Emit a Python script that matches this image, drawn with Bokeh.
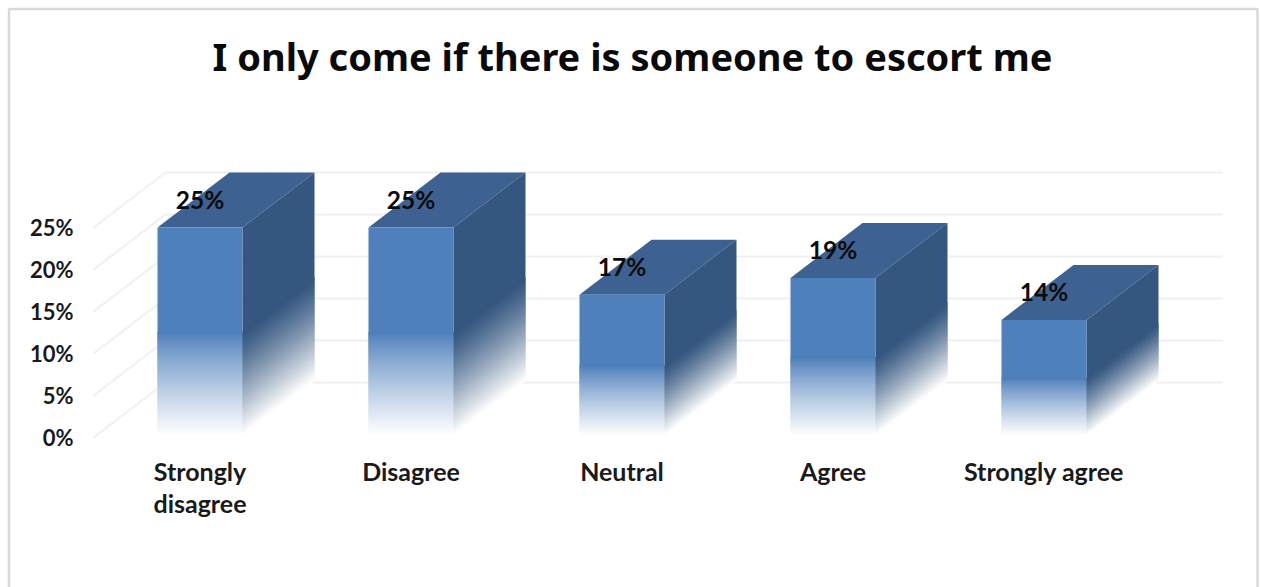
from bokeh.core.properties import value
from bokeh.embed import file_html
from bokeh.models import FixedTicker, PrintfTickFormatter, Range1d
from bokeh.plotting import figure
from bokeh.resources import INLINE

# Survey results
title = "I only come if there is someone to escort me"
categories = ["Strongly\ndisagree", "Disagree", "Neutral", "Agree", "Strongly agree"]
percent = [25, 25, 17, 19, 14]
y_ticks = [0, 5, 10, 15, 20, 25]

# Scale of the plot: pixels per category and per percentage point
W, H = 1261, 587
PX_CAT, PX_PCT = 211, 8.4
X0_PX, Y0_PX = 199.5, 437


def ux(px):
    return (px - X0_PX) / PX_CAT


def uy(px):
    return (Y0_PX - px) / PX_PCT


HALF = 42.5 / PX_CAT      # half bar width
DX = 72 / PX_CAT          # oblique depth, horizontal
DY = 55 / PX_PCT          # oblique depth, vertical
BASE = 1.5 / PX_PCT       # bars stop just above the floor edge

p = figure(
    width=W, height=H, output_backend="svg", toolbar_location=None,
    x_range=Range1d(ux(0), ux(W)), y_range=Range1d(uy(H), uy(0)),
    min_border=0, outline_line_color=None, background_fill_color="white",
    border_fill_color="white",
)
p.grid.visible = False

# Outer chart border (open at the bottom edge of the page)
p.multi_line(
    [[ux(8.5), ux(8.5), ux(1257), ux(1257)]],
    [[uy(H), uy(8.5), uy(8.5), uy(H)]],
    line_color="#D9D9D9", line_width=2.5,
)

# Floor and back wall grid
wall_xs, wall_ys = [], []
left = ux(93)
wall_right = ux(1222)
for t in y_ticks:
    wall_xs.append([left, left + DX, wall_right])
    wall_ys.append([t, t + DY, t + DY])
p.multi_line(wall_xs, wall_ys, line_color="#F0F0F0", line_width=2)


def mix(c0, c1, f):
    return "#%02x%02x%02x" % tuple(round(a + (b - a) * f) for a, b in zip(c0, c1))


FRONT = (80, 130, 190)
FRONT_LOW = (77, 126, 186)
SIDE = (52, 86, 127)
TOP = (61, 98, 146)
WHITE = (255, 255, 255)
STEPS = 60
FADE_AT = 0.5   # share of the bar height where the fade begins

for i, v in enumerate(percent):
    l, r = i - HALF, i + HALF
    h = v - BASE
    fade_top = BASE + h * FADE_AT
    strip = h * FADE_AT / STEPS

    # Solid upper parts
    p.patch([l, l + DX, r + DX, r], [v, v + DY, v + DY, v], color=mix(TOP, TOP, 0), line_width=0)
    p.patch([r, r + DX, r + DX, r],
            [fade_top - strip, fade_top - strip + DY, v + DY, v],
            color=mix(SIDE, SIDE, 0), line_width=0)
    p.quad(left=l, right=r, bottom=fade_top - strip, top=v, color=mix(FRONT, FRONT_LOW, 0.5), line_width=0)

    # Lower parts fade to white in thin strips, each overlapping the next one down
    for k in range(STEPS):
        f = k / (STEPS - 1)
        y_top = fade_top - k * strip
        y_bot = max(BASE, y_top - 2 * strip)
        p.quad(left=l, right=r, bottom=y_bot, top=y_top,
               color=mix(FRONT_LOW, WHITE, f ** 0.85), line_width=0)
        p.patch([r, r + DX, r + DX, r],
                [y_bot, y_bot + DY, y_top + DY, y_top],
                color=mix(SIDE, WHITE, f ** 1.2), line_width=0)

    p.text([i], [v + 28 / PX_PCT], text=[f"{v}%"], text_font=value("Lato"),
           text_font_style="bold", text_font_size="24.5px", text_color="#0a0a0a",
           text_align="center", text_baseline="middle")

p.text([ux(632)], [uy(55)], text=[title], text_font=value("Noto Sans"),
       text_font_style="bold", text_font_size="38px", text_color="#0a0a0a",
       text_align="center", text_baseline="middle")

yax = p.yaxis[0]
yax.fixed_location = ux(84)
yax.ticker = FixedTicker(ticks=y_ticks)
yax.formatter = PrintfTickFormatter(format="%d%%")
yax.axis_line_color = None
yax.major_tick_line_color = None
yax.minor_tick_line_color = None
yax.major_label_standoff = 5
yax.major_label_text_font = "Lato"
yax.major_label_text_font_style = "bold"
yax.major_label_text_font_size = "22px"
yax.major_label_text_color = "#1a1a1a"

xax = p.xaxis[0]
xax.fixed_location = uy(444)
xax.ticker = FixedTicker(ticks=list(range(len(categories))))
xax.major_label_overrides = {i: c for i, c in enumerate(categories)}
xax.axis_line_color = None
xax.major_tick_line_color = None
xax.minor_tick_line_color = None
xax.major_label_standoff = 5
xax.major_label_text_font = "Lato"
xax.major_label_text_font_style = "bold"
xax.major_label_text_font_size = "25px"
xax.major_label_text_line_height = 1.07
xax.major_label_text_color = "#1a1a1a"

open("out.html", "w").write(file_html(p, INLINE))
